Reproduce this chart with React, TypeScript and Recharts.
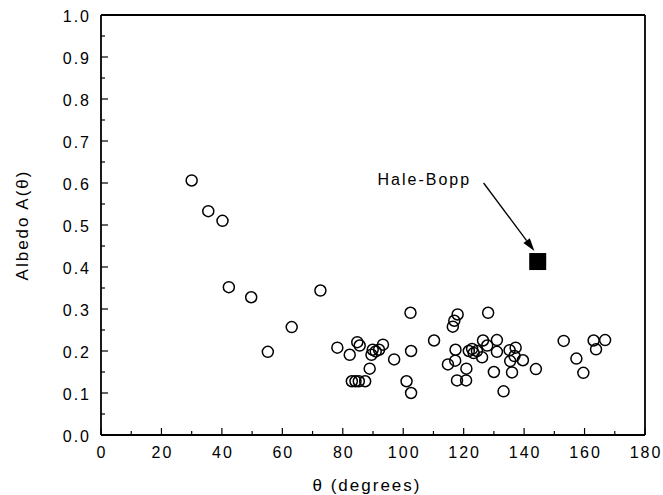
import { ScatterChart, Scatter, XAxis, YAxis, ReferenceLine, ReferenceDot } from "recharts";

// phase angle (degrees) and albedo for the comparison comets
const theta = [
  30, 35.5, 40.2, 42.3, 49.7, 55.2, 63.1, 72.6, 78.2,
  82.3, 84.8, 85.6, 83, 84.2, 85.3, 87.4, 88.9, 89.5, 89.9, 90.9, 92, 93.3, 97,
  101.1, 102.4, 102.6, 102.6, 110.2, 114.8, 116.4, 116.9, 118, 117.3, 117.2, 117.8, 120.8, 120.9,
  121.7, 122.8, 123.3, 124.4, 126.1, 126.4, 127.8, 128.1, 130, 131, 131, 133.2, 135.2, 135.4, 136,
  137.2, 136.8, 139.6, 143.9,
  153.1, 157.3, 159.6, 163, 163.8, 166.8,
];
const albedo = [
  0.606, 0.533, 0.51, 0.352, 0.328, 0.198, 0.257, 0.344, 0.208,
  0.191, 0.221, 0.213, 0.128, 0.128, 0.128, 0.128, 0.158, 0.191, 0.203, 0.199, 0.203, 0.215, 0.18,
  0.128, 0.291, 0.2, 0.1, 0.225, 0.168, 0.258, 0.272, 0.287, 0.203, 0.177, 0.13, 0.13, 0.158,
  0.2, 0.205, 0.195, 0.2, 0.185, 0.225, 0.213, 0.291, 0.15, 0.226, 0.198, 0.104, 0.202, 0.176, 0.149,
  0.208, 0.188, 0.178, 0.157,
  0.224, 0.182, 0.148, 0.225, 0.204, 0.226,
];
const comets = theta.map((t, i) => ({ theta: t, albedo: albedo[i] }));

const haleBopp = [{ theta: 144.5, albedo: 0.413 }];
const arrowFrom = { x: 126.6, y: 0.6 };
const arrowTo = { x: 143.4, y: 0.438 };
const labelAt = { x: 91.5, y: 0.609 };

const xTicks = [0, 10, 20, 30, 40, 50, 60, 70, 80, 90, 100, 110, 120, 130, 140, 150, 160, 170, 180];
const yTicks = [0, 0.05, 0.1, 0.15, 0.2, 0.25, 0.3, 0.35, 0.4, 0.45, 0.5, 0.55, 0.6, 0.65, 0.7, 0.75, 0.8, 0.85, 0.9, 0.95, 1];

const FONT = '"Liberation Sans", Arial, sans-serif';
const SPACING = 2;

const BottomTick = ({ x, y, payload }: any) => {
  const major = payload.value % 20 === 0;
  const axisY = y - 12;
  return (
    <g>
      <line x1={x} x2={x} y1={axisY} y2={axisY - (major ? 7 : 4)} stroke="#000" strokeWidth={1.2} />
      {major && (
        <text
          x={x + SPACING / 2}
          y={y}
          dy="0.71em"
          textAnchor="middle"
          fontSize={16}
          letterSpacing={SPACING}
          fontFamily={FONT}
          fill="#000"
        >
          {payload.value}
        </text>
      )}
    </g>
  );
};

const TopTick = ({ x, y, payload }: any) => {
  const major = payload.value % 20 === 0;
  return <line x1={x} x2={x} y1={y} y2={y + (major ? 7 : 4)} stroke="#000" strokeWidth={1.2} />;
};

const LeftTick = ({ x, y, payload }: any) => {
  const major = Math.round(payload.value * 100) % 10 === 0;
  const axisX = x + 10;
  return (
    <g>
      <line x1={axisX} x2={axisX + (major ? 7 : 4)} y1={y} y2={y} stroke="#000" strokeWidth={1.2} />
      {major && (
        <text
          x={x}
          y={y}
          dy="0.45em"
          textAnchor="end"
          fontSize={16}
          letterSpacing={SPACING}
          fontFamily={FONT}
          fill="#000"
        >
          {payload.value.toFixed(1)}
        </text>
      )}
    </g>
  );
};

const RightTick = ({ x, y, payload }: any) => {
  const major = Math.round(payload.value * 100) % 10 === 0;
  return <line x1={x} x2={x - (major ? 7 : 4)} y1={y} y2={y} stroke="#000" strokeWidth={1.2} />;
};

const Arrow = (props: any) => {
  const { x1, y1, x2, y2 } = props;
  const ang = Math.atan2(y2 - y1, x2 - x1);
  const len = 13;
  const w = 4;
  const bx = x2 - len * Math.cos(ang);
  const by = y2 - len * Math.sin(ang);
  const px = -Math.sin(ang) * w;
  const py = Math.cos(ang) * w;
  return (
    <g>
      <line x1={x1} y1={y1} x2={bx} y2={by} stroke="#000" strokeWidth={1.3} />
      <polygon points={`${x2},${y2} ${bx + px},${by + py} ${bx - px},${by - py}`} fill="#000" />
    </g>
  );
};

const axisLine = { stroke: "#000", strokeWidth: 1.8 };

export default function App() {
  return (
    <div style={{ position: "absolute", left: 0, top: 0, background: "#fff" }}>
      <ScatterChart width={663} height={495} margin={{ top: 0, right: 0, bottom: 0, left: 0 }}>
        <XAxis
          dataKey="theta"
          type="number"
          domain={[0, 180]}
          ticks={xTicks}
          interval={0}
          tickSize={0}
          tickMargin={12}
          tick={<BottomTick />}
          axisLine={axisLine}
          height={60}
          label={{
            content: (p: any) => {
              const vb = p.viewBox;
              return (
                <text
                  x={vb.x + vb.width / 2 - 6}
                  y={vb.y + vb.height - 4}
                  textAnchor="middle"
                  fontSize={17}
                  letterSpacing={SPACING}
                  fontFamily={FONT}
                  fill="#000"
                >
                  θ (degrees)
                </text>
              );
            },
          }}
        />
        <XAxis
          xAxisId="top"
          orientation="top"
          type="number"
          domain={[0, 180]}
          ticks={xTicks}
          interval={0}
          tickSize={0}
          tickMargin={0}
          tick={<TopTick />}
          axisLine={axisLine}
          height={15}
        />
        <YAxis
          dataKey="albedo"
          type="number"
          domain={[0, 1]}
          ticks={yTicks}
          interval={0}
          tickSize={0}
          tickMargin={10}
          tick={<LeftTick />}
          axisLine={axisLine}
          width={101}
          label={{
            content: (p: any) => {
              const vb = p.viewBox;
              const cx = vb.x + 22;
              const cy = vb.y + vb.height / 2;
              return (
                <text
                  x={cx}
                  y={cy}
                  transform={`rotate(-90 ${cx} ${cy})`}
                  textAnchor="middle"
                  dy="0.35em"
                  fontSize={17}
                  letterSpacing={SPACING}
                  fontFamily={FONT}
                  fill="#000"
                >
                  Albedo A(θ)
                </text>
              );
            },
          }}
        />
        <YAxis
          yAxisId="right"
          orientation="right"
          type="number"
          domain={[0, 1]}
          ticks={yTicks}
          interval={0}
          tickSize={0}
          tickMargin={0}
          tick={<RightTick />}
          axisLine={axisLine}
          width={18}
        />
        <Scatter
          data={comets}
          isAnimationActive={false}
          shape={(p: any) => (
            <circle cx={p.cx} cy={p.cy} r={5.5} fill="none" stroke="#000" strokeWidth={1.5} />
          )}
        />
        <Scatter
          data={haleBopp}
          isAnimationActive={false}
          shape={(p: any) => <rect x={p.cx - 8.5} y={p.cy - 8.5} width={17} height={17} fill="#000" />}
        />
        <ReferenceLine segment={[arrowFrom, arrowTo]} shape={<Arrow />} />
        <ReferenceDot
          x={labelAt.x}
          y={labelAt.y}
          r={0}
          shape={(p: any) => (
            <text
              x={p.cx}
              y={p.cy}
              dy="0.35em"
              fontSize={16}
              letterSpacing={SPACING}
              fontFamily={FONT}
              fill="#000"
            >
              Hale-Bopp
            </text>
          )}
        />
      </ScatterChart>
    </div>
  );
}
